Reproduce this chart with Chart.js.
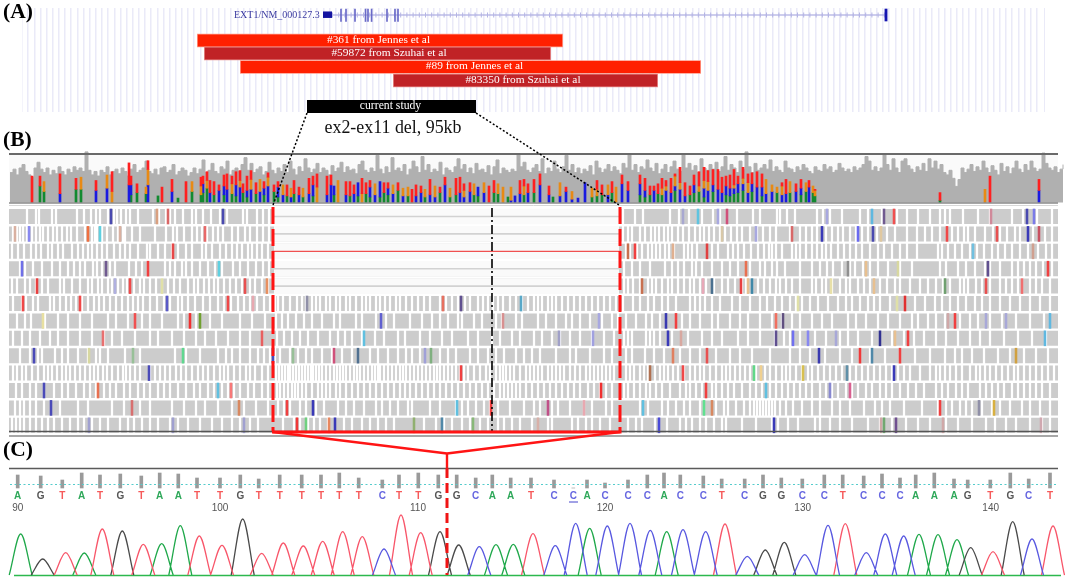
<!DOCTYPE html>
<html><head><meta charset="utf-8">
<style>html,body{margin:0;padding:0;background:#fff;overflow:hidden}canvas{position:absolute;display:block;filter:blur(.35px)}</style>
<script src="https://cdn.jsdelivr.net/npm/chart.js@4"></script></head>
<body>
<canvas id="grid" width="1023" height="104" style="left:22px;top:8px"></canvas>
<canvas id="main" width="1065" height="579" style="left:0;top:0"></canvas>
<script>
// Panel A
const cnvLabels=['#361 from Jennes et al','#59872 from Szuhai et al','#89 from Jennes et al','#83350 from Szuhai et al'];
const cnvStart=[197,204,240,393];
const cnvEnd=[563,551,701,658];
const cnvLane=[40.5,53.5,67,80.5];
const cnvLabelX=[378.5,389,474.5,523];
const exonX=[341,346,355,365.5,368,371.6,387,395,398];
const studyStart=[307],studyEnd=[476];
// Panel B coverage depth, one value per 3 units from x=10
const coverageDepth=[26,29,24,30,33,27,24,22,30,35,29,26,30,24,28,25,31,27,24,29,26,31,28,30,27,44,28,24,27,23,28,26,31,24,27,29,25,30,27,23,29,33,26,28,30,36,27,25,29,24,30,31,26,28,33,24,27,30,28,23,26,30,25,29,37,26,28,34,27,25,31,29,36,24,28,30,27,33,39,28,34,26,29,31,24,27,35,28,25,30,27,33,26,36,29,24,31,27,38,30,26,29,34,26,30,28,24,32,27,30,35,26,31,28,29,25,33,36,28,26,30,27,41,29,25,31,26,39,28,30,27,33,24,29,36,31,26,40,28,33,26,29,27,35,24,30,28,26,31,38,29,33,26,30,25,34,28,29,26,32,24,31,37,25,30,28,26,29,27,42,31,35,28,26,30,33,27,38,25,30,27,36,29,26,31,41,28,33,26,30,25,29,27,32,24,36,30,26,29,33,27,31,28,25,34,30,42,28,33,26,31,29,37,30,27,34,25,29,33,26,31,36,29,27,42,30,34,28,32,26,38,30,28,33,29,35,27,31,40,28,33,30,26,36,29,44,31,26,34,28,30,33,29,37,27,31,28,26,36,30,29,26,31,28,33,30,27,25,31,28,27,33,29,31,26,28,34,30,27,29,26,31,28,30,33,40,36,28,31,27,30,42,33,28,38,30,26,36,38,32,29,26,31,28,34,27,38,30,36,29,33,26,24,28,21,14,20,30,26,29,33,27,31,28,36,30,26,32,28,24,34,27,31,25,30,36,29,26,33,28,36,30,27,29,43,34,30,28,31,26,29,33];
// variant columns: position, green, blue, orange, red depth
const variantColumns=[[32,0,0,0,24],[40,15,0,0,9],[44,10,0,9,0],[60,0,8,0,18],[76,12,0,0,10],[81,12,0,11,0],[96,0,11,0,9],[107,0,13,12,0],[112,0,0,10,18],[129,0,16,0,20],[131,7,9,0,8],[137,9,0,0,8],[146,8,0,6,0],[148,0,16,14,8],[158,6,0,0,0],[162,0,0,0,14],[172,0,10,0,11],[178,4,0,0,0],[186,0,0,0,19],[192,10,0,9,0],[201,7,0,8,8],[203,9,8,0,7],[207,13,0,7,8],[210,0,9,0,11],[214,7,0,0,12],[219,0,11,0,5],[224,7,8,0,10],[227,0,12,0,14],[232,8,0,9,7],[236,6,10,0,12],[240,0,14,6,9],[243,9,0,0,8],[247,5,6,0,13],[251,0,12,9,8],[256,8,0,0,10],[260,0,10,11,0],[264,7,6,0,6],[268,0,15,8,4],[274,10,0,0,6],[278,5,9,0,5],[283,0,7,9,0],[287,6,0,0,10],[291,0,5,8,0],[294,8,0,0,12],[299,0,7,0,7],[303,5,0,8,0],[309,0,8,0,14],[313,6,10,0,8],[317,0,0,14,12],[327,0,7,0,17],[331,0,16,0,9],[334,7,8,0,0],[338,0,0,20,0],[346,0,7,0,12],[350,6,0,0,13],[354,0,8,0,8],[358,6,12,0,0],[362,0,0,8,14],[366,8,0,0,10],[370,5,9,0,6],[375,0,7,10,0],[380,5,14,0,0],[384,9,0,0,9],[388,7,6,0,5],[393,0,8,8,0],[398,11,0,0,7],[403,0,6,7,0],[408,6,0,8,0],[412,0,0,0,12],[416,0,6,0,10],[421,0,9,0,6],[425,5,0,7,0],[430,0,7,0,14],[435,0,5,10,0],[440,9,0,0,5],[445,0,16,0,7],[450,5,0,8,0],[456,7,0,0,15],[460,0,9,0,14],[464,0,5,6,6],[470,0,10,0,8],[474,7,0,10,0],[478,6,8,0,0],[484,0,9,9,0],[489,0,0,0,15],[494,9,0,0,11],[498,8,0,9,0],[503,0,0,14,0],[508,5,0,0,0],[511,0,2,12,0],[515,0,6,0,0],[520,0,8,0,12],[524,7,0,8,6],[528,0,9,0,8],[534,9,0,0,12],[540,0,16,0,10],[549,0,7,0,8],[553,5,0,0,0],[560,0,6,12,0],[566,0,10,0,4],[572,0,3,7,0],[578,0,4,0,0],[585,0,18,0,0],[592,5,0,8,0],[597,6,0,6,8],[602,7,0,0,9],[608,0,7,9,0],[612,9,0,0,10],[616,0,0,14,0],[622,0,17,0,8],[628,0,11,0,8],[640,7,10,0,8],[645,5,6,0,11],[650,7,0,0,8],[654,0,11,0,4],[658,8,0,0,9],[662,7,0,6,9],[666,0,11,4,5],[671,0,9,0,13],[675,11,4,9,2],[680,0,12,6,14],[685,0,6,0,12],[690,7,0,0,8],[694,9,7,0,9],[699,10,0,5,13],[704,5,8,7,12],[708,0,11,8,10],[713,10,6,0,14],[718,0,12,0,18],[722,0,9,0,14],[726,7,8,0,9],[730,6,7,0,12],[734,8,5,3,14],[738,9,8,0,7],[743,11,6,5,10],[748,0,9,9,8],[752,10,7,0,10],[757,0,14,0,14],[762,6,8,0,12],[766,0,8,13,0],[772,0,10,6,0],[777,9,0,5,0],[782,0,7,8,3],[786,0,8,0,13],[790,9,0,10,0],[796,0,10,0,7],[801,7,6,0,8],[806,10,0,8,0],[809,0,14,0,6],[813,9,0,6,0],[815,6,0,5,1],[940,2,0,0,7],[985,0,0,12,0],[990,0,0,0,24],[1039,0,11,0,10]];
// Reads: white gaps per row
const gapsRow1=[27,36,39,52,56,77,84,91,96,100,108,114,117,121,126,130,138,153,159,166,170,175,183,192,196,203,211,220,227,243,247,257,263,269,623,635,643,670,679,689,702,713,720,737,753,760,777,780,787,795,817,823,830,842,860,868,882,897,907,918,930,940,945,950,963,978,990,1012,1023,1037,1052];
const gapsRow2=[13,17,20,23,27,32,36,40,43,48,53,57,62,67,71,77,85,92,95,97,102,107,113,118,123,125,132,140,155,166,173,177,184,192,197,202,207,213,218,223,232,238,245,250,257,263,269,623,628,632,640,645,651,655,659,664,668,672,678,683,689,695,700,704,709,714,720,725,731,737,742,750,757,763,770,776,790,800,806,812,817,826,832,838,843,850,856,862,868,877,887,895,907,917,925,932,940,952,958,964,968,975,985,993,1000,1007,1015,1020,1033,1045,1052];
const gapsRow3=[12,18,24,31,36,41,48,52,58,63,72,78,83,88,92,97,102,107,114,120,125,130,138,147,150,158,165,172,178,186,192,202,206,212,220,226,232,237,242,248,252,257,262,268,626,630,637,642,648,652,656,660,665,669,674,684,688,692,697,712,718,728,733,738,744,751,758,764,769,772,776,782,792,796,800,806,812,817,822,826,831,838,844,850,856,862,870,878,884,892,900,907,917,938,942,948,955,962,970,977,984,992,998,1005,1012,1020,1028,1038,1046,1052];
const gapsRow4=[20,25,33,42,52,60,68,74,80,85,93,97,102,110,115,129,136,142,148,165,170,175,182,186,192,200,208,215,222,233,240,248,256,263,269,624,632,640,650,665,672,678,684,692,696,702,712,722,730,738,750,760,765,772,777,785,800,812,820,827,833,842,850,855,863,870,878,888,900,912,940,946,958,966,975,985,990,1000,1012,1018,1024,1030,1036,1043,1052];
const gapsRow5=[12,17,25,30,36,42,48,60,64,72,80,88,92,98,102,108,112,118,123,127,134,140,144,150,156,162,168,174,180,188,194,198,204,209,214,218,224,230,236,242,250,255,262,268,624,628,633,640,648,652,656,662,668,672,678,684,690,694,700,706,714,722,728,735,742,746,752,758,764,770,776,780,786,792,800,812,816,822,826,832,840,846,850,858,864,870,880,887,895,900,910,920,928,936,943,950,960,964,968,976,982,990,1000,1006,1012,1018,1022,1030,1036,1042,1050];
const gapsRow6=[13,22,26,33,38,50,54,60,66,71,76,82,88,94,99,104,110,116,122,128,133,138,143,150,157,164,170,178,182,188,195,203,210,218,224,231,238,244,250,257,264,270,275,278,283,290,297,302,306,312,316,320,326,330,336,340,346,350,356,362,366,370,376,380,385,390,396,400,406,412,418,424,430,440,446,452,458,465,470,478,483,488,493,498,503,510,516,522,528,534,538,542,548,552,556,562,568,574,580,586,592,598,604,610,616,623,633,640,648,654,662,668,676,690,695,700,705,712,720,732,740,750,760,767,775,782,790,796,802,810,818,828,838,846,852,860,868,874,880,890,905,915,925,935,942,950,958,966,975,982,990,1000,1010,1020,1030,1040,1050];
const gapsRow7=[17,25,31,45,58,68,80,92,108,116,128,142,150,162,178,184,196,210,222,240,252,265,276,282,288,296,304,312,322,334,340,356,362,376,386,394,410,422,432,440,448,458,462,474,482,496,502,516,522,538,546,556,566,572,580,590,602,612,618,626,636,646,652,660,682,690,700,712,718,730,740,748,760,772,782,792,800,812,822,832,848,856,866,878,888,900,912,918,928,936,945,960,970,978,990,1002,1016,1030,1044];
const gapsRow8=[13,22,30,40,50,58,68,80,92,104,112,122,135,150,158,172,184,196,205,216,228,240,250,262,277,284,292,300,308,318,330,338,345,352,362,375,384,398,405,420,430,442,452,468,478,492,500,512,520,534,542,552,560,570,580,592,604,614,624,628,632,646,650,654,660,672,688,702,712,722,738,748,760,775,784,790,800,815,826,840,848,858,872,880,892,904,914,924,936,946,958,970,980,990,1004,1018,1032,1046];
const gapsRow9=[20,30,38,42,55,62,68,78,88,96,100,108,125,140,175,186,200,218,226,232,240,250,258,264,270,275,280,290,298,306,312,322,332,342,352,358,370,378,388,398,406,412,420,440,448,456,470,478,488,496,504,516,524,532,540,556,570,576,590,604,612,626,632,645,654,664,680,690,700,716,730,740,752,770,790,800,810,825,840,852,860,870,885,900,915,930,945,955,962,972,984,998,1010,1024,1036,1048];
const gapsRow10=[13,17,22,26,32,38,44,48,52,57,62,66,70,75,80,85,90,94,98,103,107,112,118,123,126,130,135,140,150,155,160,165,170,176,181,186,192,198,203,208,214,220,224,228,234,240,246,250,255,262,268,276,279,282,285,288,290,293,296,299,302,305,308,311,313,316,319,322,326,330,334,337,340,343,346,350,354,357,360,364,368,372,375,378,380,384,388,392,396,400,403,406,410,414,418,422,426,430,434,437,440,444,448,452,456,460,464,468,474,480,486,490,496,500,503,506,510,514,520,526,530,534,538,542,548,552,556,560,564,570,575,580,586,590,594,598,602,606,610,614,626,630,634,640,644,648,655,660,664,668,673,678,684,690,695,700,704,710,716,722,726,730,735,740,745,750,756,765,770,776,782,786,790,796,802,808,812,818,824,830,836,842,850,856,862,868,874,880,886,892,898,904,910,920,930,936,940,945,950,956,962,970,976,980,985,990,996,1002,1008,1014,1018,1024,1030,1036,1042,1048,1054];
const gapsRow11=[16,22,30,36,44,54,62,68,76,84,90,96,104,110,116,124,130,138,144,150,158,164,170,178,186,194,200,208,214,222,228,234,240,248,254,262,268,277,280,284,288,292,295,298,302,306,312,318,322,326,330,336,340,346,352,358,364,370,376,382,388,394,400,405,410,416,422,428,434,440,446,452,458,464,470,476,482,488,494,500,504,508,512,516,520,526,532,538,544,550,556,562,568,574,580,588,594,600,606,612,624,628,634,640,646,650,656,662,670,680,686,690,696,702,712,716,722,728,734,742,750,756,762,770,776,782,788,794,800,806,812,820,826,832,838,846,852,858,866,872,880,886,892,900,908,916,924,936,942,948,956,962,968,980,986,992,998,1004,1012,1018,1024,1030,1036,1042,1050];
const gapsRow12=[15,20,24,30,36,44,60,78,88,112,124,140,150,172,184,196,205,218,232,244,256,268,278,284,290,300,306,316,324,338,346,354,364,376,382,390,398,408,412,430,440,456,462,468,476,484,490,498,510,524,534,540,552,558,570,584,592,606,612,640,648,662,668,676,684,690,700,716,724,728,736,744,750,754,757,760,763,766,769,772,775,780,786,793,802,812,820,832,840,850,864,875,882,890,904,922,938,946,952,960,966,972,982,992,1000,1010,1022,1030,1040,1050];
const gapsRow13=[12,16,20,24,30,36,42,48,54,62,70,78,84,92,100,108,120,128,134,142,150,158,170,178,188,200,212,222,232,240,250,258,283,294,300,308,314,320,328,344,352,362,370,378,386,394,424,436,444,452,462,470,480,488,498,504,512,520,532,548,552,572,578,586,592,600,610,628,636,642,655,667,680,686,692,700,706,714,722,726,742,756,772,778,788,798,815,820,830,840,852,868,880,892,906,918,930,946,958,972,986,995,1006,1016,1030,1042,1050];
const readGaps=[gapsRow1,gapsRow2,gapsRow3,gapsRow4,gapsRow5,gapsRow6,gapsRow7,gapsRow8,gapsRow9,gapsRow10,gapsRow11,gapsRow12,gapsRow13];
// Reads: mismatches per row [position, colour]
const hitsRow1=[[111,'#4a4ab0'],[157,'#d9a080'],[168,'#d96666'],[223,'#4a4ab0'],[683,'#a8a8d0'],[698,'#5fc4e0'],[718,'#a8a8e0'],[727,'#d0507a'],[827,'#a8a8e0'],[872,'#5fb8e0'],[884,'#705a90'],[894,'#f05050'],[991,'#d08a9a'],[1027,'#4a4ab0'],[1034,'#7a7ae8']];
const hitsRow2=[[15,'#d9b0a0'],[29,'#8888f0'],[88,'#f07040'],[100,'#5fd0e0'],[120,'#d9b0a0'],[205,'#e86868'],[722,'#d8c8a8'],[756,'#a8a8e0'],[792,'#d86868'],[822,'#3a3ab8'],[858,'#6a6af0'],[873,'#4a4ab0'],[881,'#e0c8a0'],[947,'#f04848'],[997,'#e85050'],[1028,'#3a3ab8'],[1039,'#c85060']];
const hitsRow3=[[173,'#e84848'],[628,'#c87050'],[635,'#f04040'],[673,'#e0b090'],[707,'#e04040'],[973,'#70c0e0'],[1033,'#d0a090']];
const hitsRow4=[[22,'#7070e8'],[106,'#705a90'],[148,'#f04040'],[219,'#5fd0e0'],[746,'#e87050'],[848,'#909090'],[866,'#e8c090'],[898,'#d8d8a0'],[988,'#605090'],[1048,'#f04040']];
const hitsRow5=[[37,'#e84040'],[115,'#b0b0e0'],[130,'#f04848'],[162,'#e0e0a8'],[245,'#e85050'],[267,'#e89060'],[642,'#c87050'],[703,'#e8a8b8'],[712,'#4a7090'],[741,'#e84040'],[748,'#e8c090'],[752,'#4088a8'],[831,'#e8e0a8'],[874,'#e8c090'],[945,'#70a070'],[986,'#e85050'],[1022,'#f07070']];
const hitsRow6=[[23,'#f04848'],[80,'#f04848'],[167,'#5a5ac8'],[228,'#f04848'],[253,'#e8a8b0'],[307,'#9090a8'],[443,'#e87060'],[461,'#605090'],[521,'#58a8c8'],[798,'#e0e0a8'],[897,'#e0e0a8'],[905,'#e03030']];
const hitsRow7=[[43,'#e8e0a0'],[135,'#f05050'],[190,'#f03030'],[200,'#70a030'],[381,'#6060d0'],[503,'#d89090'],[599,'#a8a8e0'],[666,'#3a3ab0'],[676,'#f04040'],[776,'#f07060'],[783,'#605080'],[948,'#d0a8a8'],[955,'#f04040'],[986,'#a8a8d8'],[1006,'#a8a8d8'],[1050,'#60b8e0']];
const hitsRow8=[[103,'#e87070'],[262,'#e86060'],[364,'#60c0e0'],[559,'#a0a0c8'],[593,'#a0a0e0'],[668,'#3a3ab8'],[681,'#d8a8a0'],[776,'#605090'],[793,'#7070f0'],[808,'#8888f0'],[836,'#a8a8d8'],[880,'#303090'],[895,'#e8c090'],[908,'#f04040'],[1045,'#60b8e0']];
const hitsRow9=[[34,'#4a4ab8'],[89,'#d8d8a0'],[133,'#98c098'],[183,'#60d890'],[273,'#4a4ab8'],[293,'#98c098'],[334,'#d0507a'],[358,'#507090'],[425,'#a0a0d8'],[431,'#80b080'],[673,'#e08060'],[707,'#e85050'],[819,'#3a3ab0'],[860,'#f03838'],[872,'#5088a8'],[900,'#f04040'],[1016,'#d0a040']];
const hitsRow10=[[149,'#4a4ab8'],[461,'#f04040'],[650,'#b07050'],[683,'#f04848'],[754,'#60d888'],[761,'#f0d090'],[803,'#d8c050'],[847,'#6090a8'],[894,'#3a3ab8']];
const hitsRow11=[[44,'#4a4ab8'],[98,'#e87050'],[218,'#60c0e0'],[231,'#f87878'],[601,'#f03030'],[706,'#f04040'],[766,'#60c0e0'],[830,'#8888d0'],[850,'#d86090']];
const hitsRow12=[[51,'#4a4ab8'],[132,'#d87070'],[239,'#d88860'],[287,'#f04040'],[313,'#3a3ab8'],[457,'#60c0e0'],[491,'#f04040'],[548,'#c05088'],[584,'#e8a8b0'],[643,'#60c0e0'],[704,'#60e090'],[712,'#d88860'],[940,'#f04040'],[979,'#9090a8'],[994,'#d8b040']];
const hitsRow13=[[89,'#a0a0d0'],[173,'#a0a0d0'],[244,'#a0a0d0'],[297,'#f03838'],[306,'#70d080'],[329,'#e88860'],[335,'#3a3ab8'],[414,'#90b070'],[442,'#5088a8'],[473,'#88b878'],[538,'#d8b0a8'],[659,'#4a4ad8'],[774,'#3a3ab8'],[881,'#d0a8a8'],[884,'#70a870'],[896,'#705090'],[943,'#d0a8a8'],[1041,'#d0a8b0']];
const readHits=[hitsRow1,hitsRow2,hitsRow3,hitsRow4,hitsRow5,hitsRow6,hitsRow7,hitsRow8,hitsRow9,hitsRow10,hitsRow11,hitsRow12,hitsRow13];
// Panel C
const basePos=[17.7,40.7,62.3,81.7,100,120.3,141.3,159.7,178.3,197,220,240.3,258.7,279.7,301.7,321,339.3,358.7,382.3,399,418.3,438.3,456.7,475.7,492.3,510.7,531,554,573.3,587,605,628,647.3,664,680.3,703.3,721.7,744.7,763,781.3,802.3,824.3,842.7,863.7,882,900,915.7,934.3,954,967.7,990.3,1010.3,1028.7,1050];
const baseCalls=('AGTATGTAATTGTTTTT'+'TCTTGGCAATCCACCCACC'+'TCGGCCTCCCAAAGTGCT').split('');
const qualityTop=[475,476,480,473,475,474,476,473,474,478,478,475,479,475,475,475,473,478,480,475,473,475,475,478,475,478,478,480,488,480,483,480,475,473,475,476,479,479,475,478,479,475,475,476,474,478,475,473,479,480,480,473,479,473];
const positionTicks=[90,100,110,120,130,140];
const positionX=[17.7,220,418,605,802.7,990.7];
const peakX=[20.7,42.7,65.7,84.3,102.3,122.3,143.3,161.7,180.3,199.3,222,242.7,261.7,283.3,303.3,322.7,342.7,362.3,384,401,420.7,440,458.7,479.3,496,513.3,533,555.3,575.7,589.7,607.3,630,650.3,666.7,683,705.7,725,747.3,765.3,784.3,804.7,828,845.3,866.3,885.3,903.7,919,938,957,970.7,993,1012.7,1032,1053];
const peakTop=[534,559,552.7,553,529,531,544.3,543.7,525.7,536,545.3,519,553.3,543,546,541.3,531.7,536.7,549,515,532.7,531.7,545,546.7,544.7,544.3,533.7,545.7,523.3,528.3,526,523.3,530.3,531.7,529.7,531.7,524,556.3,550,542.3,554.7,525.3,523.7,552.7,534,536,534.3,534.7,539.7,547.7,551.7,521.7,539,526];
const peakBase=('GKRGRKRGGRRKRRRRR'+'RBRRKKBGGRBBGBBBGBB'+'RBKKBBRBBBGGGKRKBR').split('');

const traceColor={G:'#1fa84a',K:'#4a4a4a',R:'#f8566a',B:'#5858e0'};
const letterColor={A:'#2fa85a',G:'#555',T:'#f65a5a',C:'#6666e0'};
const datasets=[];
let orderCounter=0;
function add(d){d.order=-(orderCounter++);datasets.push(d);}
function line(pts,color,width,extra){add(Object.assign({type:'line',data:pts,borderColor:color,borderWidth:width,pointRadius:0,fill:false,tension:0,spanGaps:false},extra||{}));}
function bars(data,colors,thick){add({type:'bar',data,backgroundColor:colors,barThickness:thick,grouped:false});}

// Panel A marks
line([{x:332,y:15},{x:886,y:15}],'#9c9cdc',1.2);
line([{x:332,y:15},{x:886,y:15}],'#b4b4e4',5,{borderDash:[1,5.2]});
line([{x:323,y:14.7},{x:332,y:14.7}],'#1414a0',6.5);
bars(exonX.map(x=>({x,y:[9,21.5]})),'#6a6ac8',1);
bars([{x:886,y:[9,21]}],'#1414b0',2.2);
cnvStart.forEach((s,i)=>{line([{x:s,y:cnvLane[i]},{x:cnvEnd[i],y:cnvLane[i]}],i%2?'#e89090':'#ff9a88',13.5);line([{x:s+.8,y:cnvLane[i]},{x:cnvEnd[i]-.8,y:cnvLane[i]}],i%2?'#c02226':'#ff2000',12);});
line([{x:studyStart[0],y:106.5},{x:studyEnd[0],y:106.5}],'#000',13);

// Panel B frame and coverage
const coverageScale=1.15,variantScale=1.1;
line([{x:9,y:178},{x:1058,y:178}],'#fafafa',48);
line(coverageDepth.map((d,i)=>({x:10+3*i,y:202.5-d*coverageScale})),'#b0b0b0',1,{fill:{value:202.5},backgroundColor:'#b0b0b0',stepped:true});
const vCols=[['#128a30',1],['#1a1ae0',2],['#e88a14',3],['#ff2020',4]];
vCols.forEach(([c,k])=>{const seg=[];variantColumns.forEach(v=>{let h=0;for(let j=1;j<k;j++)h+=v[j];if(v[k]>0)seg.push({x:v[0],y:[202.5-(h+v[k])*variantScale,202.5-h*variantScale]});});bars(seg,c,2);});
line([{x:9,y:154},{x:1058,y:154}],'#6a6a6a',1.8);
line([{x:9,y:203},{x:1058,y:203}],'#8a8a8a',1.6);
line([{x:9,y:205.5},{x:1058,y:205.5}],'#d8d8d8',1);

// Panel B reads
const rowCenter=i=>216.5+17.4*i;
readGaps.forEach((g,i)=>{
  const y=rowCenter(i);
  line([{x:9,y},{x:1058,y}],'#cccccc',15);
  bars(g.map(x=>({x,y:[y-8,y+8]})),'#ffffff',1.6);
  bars(readHits[i].map(h=>({x:h[0],y:[y-7.5,y+7.5]})),readHits[i].map(h=>h[1]),1.9);
  if(i<5){
    line([{x:274,y},{x:619,y}],'#fafafa',15.6);
    line([{x:272,y},{x:621,y}],i===2?'#f05050':'#d2d2d2',i===2?1.2:1.6);
  }
});
line([{x:9,y:431.5},{x:1058,y:431.5}],'#555',1.6);
line([{x:9,y:436},{x:1058,y:436}],'#8a8a8a',1.4);

// Connectors
line([{x:307,y:113},{x:273,y:205}],'#000',1.5,{borderDash:[2,2]});
line([{x:476,y:113},{x:619,y:205}],'#000',1.5,{borderDash:[2,2]});
line([{x:492,y:208},{x:492,y:431}],'#000',1.6,{borderDash:[9,3,2,3]});
line([{x:273,y:207},{x:273,y:431}],'#ff1414',3,{borderDash:[17,5]});
line([{x:620,y:207},{x:620,y:431}],'#ff1414',3,{borderDash:[17,5]});
line([{x:272,y:432},{x:621.5,y:432}],'#ff1414',3);
line([{x:273,y:432},{x:447,y:453.5},{x:620,y:432}],'#ff1414',2.4);
line([{x:447,y:453},{x:447,y:468}],'#ff1414',2.4);

// Panel C
line([{x:9,y:468.5},{x:1058,y:468.5}],'#5a5a5a',1.6);
bars(basePos.map((x,i)=>({x,y:[qualityTop[i],488]})),'#9a9a9a',3);
line([{x:10,y:484.5},{x:1058,y:484.5}],'#55cccc',1.2,{borderDash:[2,2.5]});
line([{x:569,y:502},{x:578,y:502}],'#4444cc',1);
line([{x:14,y:575.5},{x:1061,y:575.5}],'#2cb84e',1.6);
Object.keys(traceColor).forEach(b=>{
  const pts=[];
  peakX.forEach((x,i)=>{if(peakBase[i]===b){pts.push({x:x-11.5,y:575},{x,y:peakTop[i]},{x:x+11.5,y:575},{x:null,y:null});}});
  line(pts,traceColor[b],1.3,{cubicInterpolationMode:'monotone'});
});
line([{x:447,y:468},{x:447,y:575}],'#f01414',3,{borderDash:[10,5]});

const texts=[
 {t:'(A)',x:3,y:12.5,f:'bold 21.5px "Liberation Serif"',c:'#000',a:'left'},
 {t:'(B)',x:3,y:140.5,f:'bold 21.5px "Liberation Serif"',c:'#000',a:'left'},
 {t:'(C)',x:3,y:450.5,f:'bold 21.5px "Liberation Serif"',c:'#000',a:'left'},
 {t:'EXT1/NM_000127.3',x:234,y:15.5,f:'10px "Liberation Serif"',c:'#3a3aa0',a:'left'},
 {t:'current study',x:390.5,y:105.5,f:'11.7px "Liberation Serif"',c:'#fff',a:'center'},
 {t:'ex2-ex11 del, 95kb',x:393,y:128,f:'17.9px "Liberation Serif"',c:'#111',a:'center'}
];
cnvLabels.forEach((t,i)=>texts.push({t,x:cnvLabelX[i],y:cnvLane[i]-.5,f:'11.4px "Liberation Serif"',c:'#fff',a:'center'}));
baseCalls.forEach((b,i)=>texts.push({t:b,x:basePos[i],y:496,f:'bold 10px "Liberation Sans"',c:letterColor[b],a:'center'}));
positionTicks.forEach((t,i)=>texts.push({t:String(t),x:positionX[i],y:508,f:'10px "Liberation Sans"',c:'#555',a:'center'}));
const labelPlugin={id:'labels',afterDatasetsDraw(ch){const c=ch.ctx;c.save();c.textBaseline='middle';texts.forEach(l=>{c.font=l.f;c.fillStyle=l.c;c.textAlign=l.a;c.fillText(l.t,ch.scales.x.getPixelForValue(l.x),ch.scales.y.getPixelForValue(l.y));});c.restore();}};

Chart.defaults.animation=false;
new Chart(document.getElementById('grid'),{type:'line',data:{datasets:[]},options:{responsive:false,devicePixelRatio:1,layout:{padding:0},plugins:{legend:{display:false},tooltip:{enabled:false}},scales:{
 x:{type:'linear',min:0,max:1023,position:'bottom',border:{display:false},grid:{color:'#eaeaf8',lineWidth:1.5,drawTicks:false},ticks:{display:false,stepSize:6.15,autoSkip:false,maxTicksLimit:400}},
 y:{display:false}}}});
new Chart(document.getElementById('main'),{type:'bar',data:{datasets},plugins:[labelPlugin],options:{responsive:false,devicePixelRatio:1,layout:{padding:0},plugins:{legend:{display:false},tooltip:{enabled:false}},scales:{
 x:{type:'linear',min:0,max:1065,display:false,offset:false,grid:{offset:false}},
 y:{type:'linear',min:0,max:579,reverse:true,display:false}}}});
</script></body></html>
